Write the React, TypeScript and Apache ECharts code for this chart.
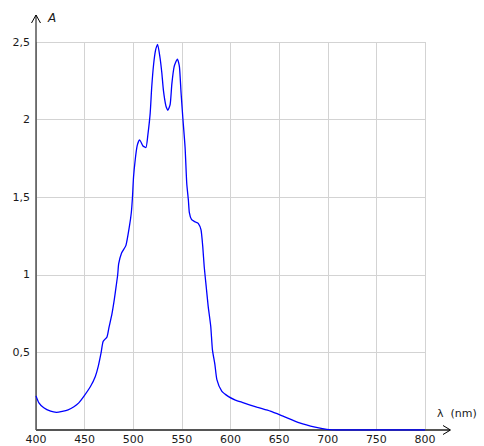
import React, { useEffect, useRef } from "react";
import * as echarts from "echarts";

const wavelengths = [
  400, 403, 408, 415, 421, 427, 433, 439, 444, 449, 456, 461, 464, 467, 469, 473, 475, 478, 480.5,
  482.5, 484, 485, 488, 492.5, 496, 498, 499.2, 500.3, 502, 504, 506.5, 510, 513, 515, 517.4, 519,
  521, 523, 525, 527.5, 529.4, 531, 533.5, 535.5, 538, 539.7, 542, 545.4, 547.5, 549.2, 551, 553.3,
  555, 556.7, 557.7, 560, 564, 567, 569.7, 571.5, 573, 575, 577, 579.7, 581.4, 584, 586, 591, 598,
  605, 612, 627, 641, 654, 671, 687, 699, 710, 800,
];
const absorbance = [
  0.22, 0.175, 0.143, 0.121, 0.114, 0.12, 0.13, 0.15, 0.175, 0.215, 0.28, 0.345, 0.41, 0.5, 0.57,
  0.6, 0.66, 0.745, 0.84, 0.93, 1.0, 1.07, 1.14, 1.19, 1.31, 1.4, 1.5, 1.63, 1.74, 1.83, 1.87, 1.83,
  1.82, 1.9, 2.04, 2.21, 2.36, 2.45, 2.485, 2.4, 2.3, 2.19, 2.09, 2.06, 2.1, 2.23, 2.34, 2.39, 2.34,
  2.17, 2.01, 1.82, 1.59, 1.48, 1.4, 1.355, 1.34, 1.33, 1.29, 1.18, 1.05, 0.925, 0.8, 0.667, 0.518,
  0.42, 0.325, 0.25, 0.215, 0.193, 0.178, 0.147, 0.121, 0.089, 0.046, 0.018, 0.004, 0, 0,
];
const xTicks = { min: 400, max: 800, interval: 50 };
const yTicks = { min: 0, max: 2.5, interval: 0.5 };
const yAxisTitle = "A";
const xAxisTitle = "λ  (nm)";

const FONT = "DejaVu Sans";

export default function App() {
  const ref = useRef<HTMLDivElement>(null);
  useEffect(() => {
    if (!ref.current) return;
    const chart = echarts.init(ref.current, undefined, { renderer: "svg" });
    const gridLeft = 36;
    const gridTop = 42;
    const gridBottomY = 430;
    chart.setOption({
      animation: false,
      backgroundColor: "#ffffff",
      grid: { left: gridLeft, right: 59, top: gridTop, bottom: 446 - gridBottomY },
      xAxis: {
        type: "value",
        min: xTicks.min,
        max: xTicks.max,
        interval: xTicks.interval,
        axisLine: { show: false },
        axisTick: { show: false },
        splitLine: { show: true, lineStyle: { color: "#d3d3d3", width: 1 } },
        axisLabel: { fontFamily: FONT, fontSize: 11, color: "#1a1a1a", margin: 4 },
      },
      yAxis: {
        type: "value",
        min: yTicks.min,
        max: yTicks.max,
        interval: yTicks.interval,
        axisLine: { show: false },
        axisTick: { show: false },
        splitLine: { show: true, lineStyle: { color: "#d3d3d3", width: 1 } },
        axisLabel: {
          fontFamily: FONT,
          fontSize: 11,
          color: "#1a1a1a",
          margin: 6,
          formatter: (v: number) => (v === 0 ? "" : String(v).replace(".", ",")),
        },
      },
      graphic: [
        { type: "line", z: 1, shape: { x1: 36, y1: gridBottomY, x2: 36, y2: 15 }, style: { stroke: "#000", lineWidth: 1 } },
        { type: "polyline", z: 1, shape: { points: [[31.5, 23], [36, 15], [40.5, 23]] }, style: { stroke: "#000", lineWidth: 1, fill: "none" } },
        { type: "line", z: 1, shape: { x1: 36, y1: gridBottomY, x2: 450, y2: gridBottomY }, style: { stroke: "#555", lineWidth: 2 } },
        { type: "polyline", z: 1, shape: { points: [[443, 425.5], [450.5, gridBottomY], [443, 434.5]] }, style: { stroke: "#000", lineWidth: 1, fill: "none" } },
        { type: "text", z: 1, x: 48, y: 18, style: { text: yAxisTitle, font: `italic 12px "${FONT}"`, fill: "#1a1a1a", verticalAlign: "middle" } },
        { type: "text", z: 1, x: 437, y: 413, style: { text: xAxisTitle, font: `11px "${FONT}"`, fill: "#1a1a1a", verticalAlign: "middle" } },
      ],
      series: [
        {
          type: "line",
          z: 5,
          showSymbol: false,
          smooth: 0.2,
          data: wavelengths.map((w, i) => [w, absorbance[i]]),
          lineStyle: { color: "#0000ff", width: 1.3 },
        },
      ],
    });
    return () => chart.dispose();
  }, []);
  return <div ref={ref} style={{ position: "fixed", left: 0, top: 0, width: 484, height: 446 }} />;
}
